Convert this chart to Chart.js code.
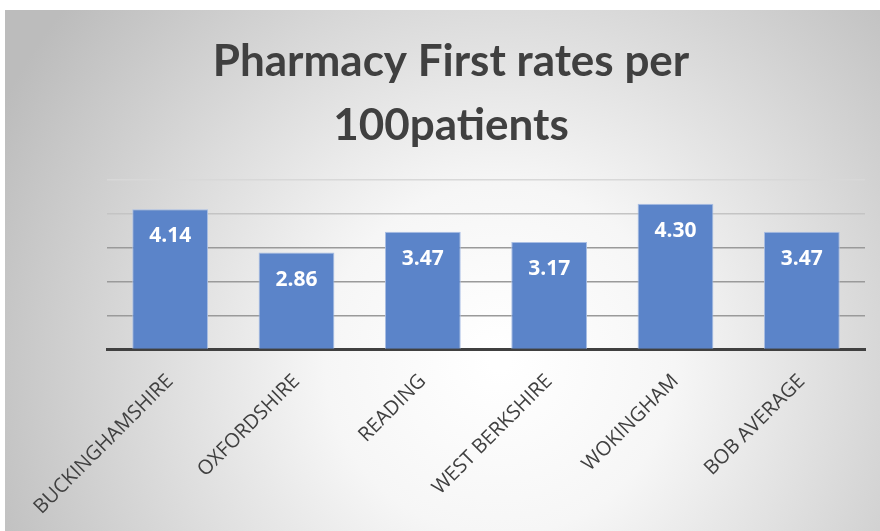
<!DOCTYPE html>
<html>
<head>
<meta charset="utf-8">
<script src="https://cdn.jsdelivr.net/npm/chart.js@4.4.1/dist/chart.umd.min.js"></script>
<style>
  html, body { margin: 0; padding: 0; background: #ffffff; }
  #wrap { position: absolute; left: 0; top: 0; width: 880px; height: 531px; }
</style>
</head>
<body>
<div id="wrap"><canvas id="chart" width="880" height="531"></canvas></div>
<script>
// Chart values
var areas = ['BUCKINGHAMSHIRE', 'OXFORDSHIRE', 'READING', 'WEST BERKSHIRE', 'WOKINGHAM', 'BOB AVERAGE'];
var rates = [4.14, 2.86, 3.47, 3.17, 4.30, 3.47];
var titleLines = ['Pharmacy First rates per', '100patients'];

// grey radial background behind everything, plus the two line title
var backdrop = {
    id: 'backdrop',
    beforeDraw: function (chart) {
        var c = chart.ctx;
        c.save();
        var g = c.createRadialGradient(500, 360, 10, 500, 360, 560);
        g.addColorStop(0, '#ffffff');
        g.addColorStop(0.3, '#f6f6f6');
        g.addColorStop(1, '#bcbcbc');
        c.fillStyle = g;
        c.fillRect(5, 10, 875, 521);

        c.fillStyle = '#404040';
        c.font = 'bold 44px Lato';
        c.textAlign = 'center';
        c.textBaseline = 'alphabetic';
        c.fillText(titleLines[0], 451, 76);
        c.fillText(titleLines[1], 451, 140);
        c.restore();
    }
};

// white values inside the top of each bar
var barValues = {
    id: 'barValues',
    afterDatasetsDraw: function (chart) {
        var c = chart.ctx;
        var meta = chart.getDatasetMeta(0);
        c.save();
        c.fillStyle = '#ffffff';
        c.font = 'bold 21px "Open Sans"';
        c.textAlign = 'center';
        c.textBaseline = 'middle';
        meta.data.forEach(function (bar, i) {
            c.fillText(rates[i].toFixed(2), bar.x, bar.y + 27);
        });
        c.restore();
    }
};

var ctx = document.getElementById('chart').getContext('2d');
var chart = new Chart(ctx, {
    type: 'bar',
    data: {
        labels: areas,
        datasets: [{
            label: 'Rate',
            data: rates,
            backgroundColor: '#5b84c9',
            borderColor: '#a9bee4',
            borderWidth: 1,
            categoryPercentage: 1,
            barPercentage: 0.6
        }]
    },
    options: {
        responsive: false,
        animation: false,
        layout: { padding: { left: 107, right: 15, top: 180, bottom: 12 } },
        plugins: {
            legend: { display: false },
            tooltip: { enabled: false },
            title: { display: false }
        },
        scales: {
            x: {
                grid: { display: false },
                border: { color: '#404040', width: 3 },
                ticks: {
                    color: '#404040',
                    font: { family: 'Open Sans', size: 20 },
                    maxRotation: 45,
                    minRotation: 45,
                    autoSkip: false,
                    padding: 12
                }
            },
            y: {
                min: 0,
                max: 5,
                ticks: { display: false, stepSize: 1 },
                border: { display: false },
                grid: {
                    drawTicks: false,
                    lineWidth: 1.5,
                    color: function (c) {
                        if (c.tick.value >= 5) return '#d8d8d8';
                        if (c.tick.value >= 4) return '#c4c4c4';
                        return '#9a9a9a';
                    }
                }
            }
        }
    },
    plugins: [backdrop, barValues]
});
</script>
</body>
</html>
